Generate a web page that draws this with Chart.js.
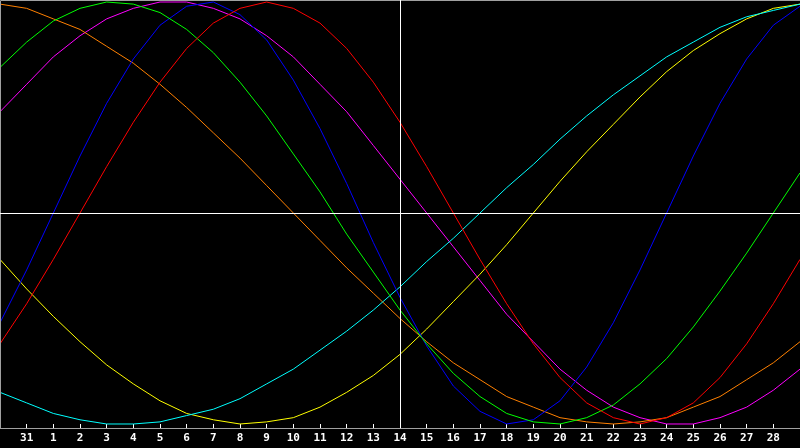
<!DOCTYPE html>
<html>
<head>
<meta charset="utf-8">
<script src="https://cdn.jsdelivr.net/npm/chart.js@4/dist/chart.umd.min.js"></script>
<style>
  html, body { margin: 0; padding: 0; background: #000; overflow: hidden; }
  canvas { display: block; }
</style>
</head>
<body>
<canvas id="c" width="800" height="448"></canvas>
<script>
// Day labels (first and last points sit on the plot edges and carry no label)
const days = ['30','31','1','2','3','4','5','6','7','8','9','10','11','12','13','14','15','16','17','18','19','20','21','22','23','24','25','26','27','28','29'];
const markerDay = '14';

// Curve values in percent (-100 .. 100), one per day
const redValues     = [-62,-43,-22,0,22,43,62,78,90,97,100,97,90,78,62,43,22,0,-22,-43,-62,-78,-90,-97,-100,-97,-90,-78,-62,-43,-22];
const greenValues   = [69,81,91,97,100,99,95,87,76,62,46,28,10,-10,-28,-46,-62,-76,-87,-95,-99,-100,-97,-91,-81,-69,-54,-37,-19,0,19];
const blueValues    = [-52,-27,0,27,52,73,89,98,100,94,82,63,40,14,-14,-40,-63,-82,-94,-100,-98,-89,-73,-52,-27,0,27,52,73,89,98];
const cyanValues    = [-85,-90,-95,-98,-100,-100,-99,-96,-93,-88,-81,-74,-65,-56,-46,-35,-23,-12,0,12,23,35,46,56,65,74,81,88,93,96,99];
const yellowValues  = [-22,-36,-49,-61,-72,-81,-89,-95,-98,-100,-99,-97,-92,-85,-77,-67,-55,-42,-29,-15,0,15,29,42,55,67,77,85,92,97,99];
const orangeValues  = [99,97,92,87,79,71,61,50,38,26,13,0,-13,-26,-38,-50,-61,-71,-79,-87,-92,-97,-99,-100,-99,-97,-92,-87,-79,-71,-61];
const magentaValues = [48,61,74,84,92,97,100,100,97,92,84,74,61,48,32,16,0,-16,-32,-48,-61,-74,-84,-92,-97,-100,-100,-97,-92,-84,-74];

const seriesList = [
  { name: 'red',     data: redValues,     color: '#ff0000' },
  { name: 'green',   data: greenValues,   color: '#00ff00' },
  { name: 'blue',    data: blueValues,    color: '#0000ff' },
  { name: 'cyan',    data: cyanValues,    color: '#00ffff' },
  { name: 'yellow',  data: yellowValues,  color: '#ffff00' },
  { name: 'orange',  data: orangeValues,  color: '#ff8000' },
  { name: 'magenta', data: magentaValues, color: '#ff00ff' }
];

const lastIdx = days.length - 1;

const framePlugin = {
  id: 'frame',
  afterDatasetsDraw(chart) {
    const ctx = chart.ctx;
    const a = chart.chartArea;
    const xs = chart.scales.x, ys = chart.scales.y;
    ctx.save();
    ctx.lineWidth = 1;
    // gray frame on left and top
    ctx.strokeStyle = '#a0a0a0';
    ctx.beginPath();
    ctx.moveTo(a.left + 0.5, a.bottom);
    ctx.lineTo(a.left + 0.5, a.top + 0.5);
    ctx.lineTo(a.right, a.top + 0.5);
    ctx.stroke();
    // white crosshair: marker day and zero line
    ctx.strokeStyle = '#ffffff';
    const xm = Math.round(xs.getPixelForValue(days.indexOf(markerDay))) + 0.5;
    const y0 = Math.round(ys.getPixelForValue(0)) + 0.5;
    ctx.beginPath();
    ctx.moveTo(xm, a.top);
    ctx.lineTo(xm, a.bottom);
    ctx.moveTo(a.left, y0);
    ctx.lineTo(a.right, y0);
    ctx.stroke();
    ctx.restore();
  }
};

new Chart(document.getElementById('c'), {
  type: 'line',
  data: {
    labels: days,
    datasets: seriesList.map(s => ({
      label: s.name,
      data: s.data,
      borderColor: s.color,
      backgroundColor: s.color,
      borderWidth: 1,
      pointRadius: 0,
      pointHoverRadius: 0,
      pointBorderWidth: 0,
      tension: 0,
      fill: false
    }))
  },
  options: {
    responsive: false,
    animation: false,
    devicePixelRatio: 1,
    layout: { autoPadding: false, padding: 0 },
    plugins: { legend: { display: false }, tooltip: { enabled: false } },
    scales: {
      x: {
        type: 'category',
        offset: false,
        afterFit: (scale) => { scale.height = 20; scale.paddingLeft = 0; scale.paddingRight = 0; },
        grid: {
          display: true,
          drawOnChartArea: false,
          drawTicks: true,
          tickLength: -4,
          tickWidth: 1,
          color: '#ffffff',
          tickColor: (c) => (c.index === 0 || c.index === lastIdx) ? 'rgba(0,0,0,0)' : '#ffffff'
        },
        border: { display: true, color: '#a0a0a0', width: 1 },
        ticks: {
          autoSkip: false,
          maxRotation: 0,
          minRotation: 0,
          padding: 8,
          color: '#ffffff',
          font: { family: 'DejaVu Sans Mono', size: 11, weight: 'bold' },
          callback: (v, i) => (i === 0 || i === lastIdx) ? '' : days[i]
        }
      },
      y: {
        display: false,
        min: -101.9,
        max: 100.95
      }
    }
  },
  plugins: [framePlugin]
});
</script>
</body>
</html>
